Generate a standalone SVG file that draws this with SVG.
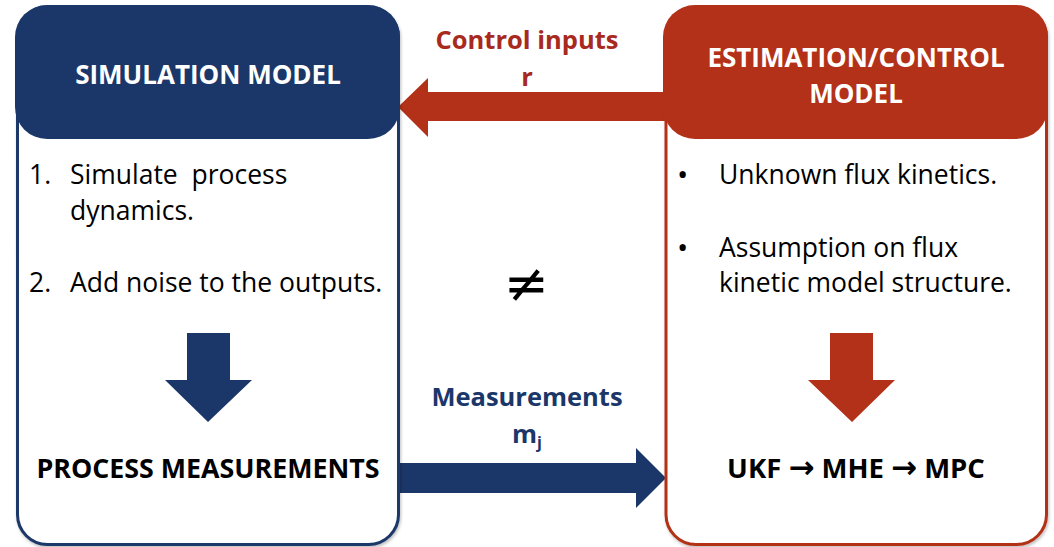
<svg xmlns="http://www.w3.org/2000/svg" width="1054" height="547" viewBox="0 0 1054 547">
<defs>
<filter id="sh" x="-5%" y="-5%" width="110%" height="110%">
<feDropShadow dx="1" dy="2" stdDeviation="1.5" flood-color="#000" flood-opacity="0.25"/>
</filter>
</defs>
<style>
.t{font-family:"Open Sans","Liberation Sans",sans-serif}
.hd{font-size:26px;font-weight:bold;fill:#fff;text-anchor:middle}
.bd{font-size:26.5px;fill:#000}
.bu{font-size:30px;fill:#000}
.lb{font-size:25.5px;font-weight:bold;text-anchor:middle}
.big{font-size:27.5px}
.pm{font-size:26.8px}
.ar{font-family:"DejaVu Sans",sans-serif;font-weight:bold;font-size:31px}
.blue{fill:#1B3769}
.red{fill:#B33118}
</style>
<rect width="1054" height="547" fill="#fff"/>
<g id="connectors">
<polygon class="red" points="398,107 428,78 428,92 668,92 668,121 428,121 428,137"/>
<polygon class="blue" points="398,463 636,463 636,448 666,478 636,508 636,493 398,493"/>
</g>
<g id="simulation-model">
<rect x="17.5" y="7" width="381" height="537.5" rx="30" fill="#fff" stroke="#1B3769" stroke-width="3" filter="url(#sh)"/>
<rect class="blue" x="15" y="5" width="385" height="134" rx="32"/>
<text class="t hd" x="208" y="84">SIMULATION MODEL</text>
<text class="t bd" x="29" y="184">1.</text>
<text class="t bd" x="70" y="184" xml:space="preserve">Simulate  process</text>
<text class="t bd" x="70" y="220">dynamics.</text>
<text class="t bd" x="29" y="292">2.</text>
<text class="t bd" x="70" y="292">Add noise to the outputs.</text>
<polygon class="blue" points="187,333 230,333 230,380 252,380 208,422 165,380 187,380"/>
<text class="t lb pm" x="208" y="478" fill="#000">PROCESS MEASUREMENTS</text>
</g>
<g id="estimation-control-model">
<rect x="666" y="7" width="380.5" height="537.5" rx="30" fill="#fff" stroke="#B33118" stroke-width="3" filter="url(#sh)"/>
<rect class="red" x="663" y="5" width="385" height="134" rx="32"/>
<text class="t hd" x="856" y="67">ESTIMATION/CONTROL</text>
<text class="t hd" x="856" y="103">MODEL</text>
<text class="t bu" x="677" y="185">•</text>
<text class="t bd" x="719" y="184">Unknown flux kinetics.</text>
<text class="t bu" x="677" y="258">•</text>
<text class="t bd" x="719" y="257">Assumption on flux</text>
<text class="t bd" x="719" y="292">kinetic model structure.</text>
<polygon class="red" points="830,333 873,333 873,380 895,380 852,422 808,380 830,380"/>
<text class="t lb big" x="856" y="478" fill="#000">UKF <tspan class="ar">→</tspan> MHE <tspan class="ar">→</tspan> MPC</text>
</g>
<g id="labels">
<text class="t lb" x="527" y="49" fill="#A82A1E">Control inputs</text>
<text class="t lb" x="527" y="86" fill="#A82A1E">r</text>
<text class="t lb" x="527" y="406" fill="#1B3769">Measurements</text>
<text class="t lb" x="527" y="443" fill="#1B3769">m<tspan style="font-size:16px" dy="5">j</tspan></text>
<text x="526" y="302" font-family="DejaVu Sans,sans-serif" font-size="54px" text-anchor="middle" fill="#000">≠</text>
</g>
</svg>
